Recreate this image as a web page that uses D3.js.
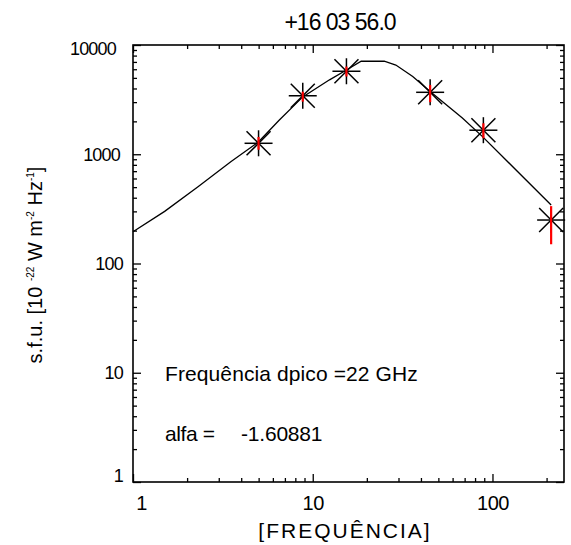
<!DOCTYPE html>
<html><head><meta charset="utf-8">
<script src="https://cdn.jsdelivr.net/npm/d3@7/dist/d3.min.js"></script>
<style>
body{margin:0;background:#fff}
text{font-family:"Liberation Sans",Arial,sans-serif;fill:#000}
</style>
</head><body>
<svg id="c" width="571" height="545"></svg>
<script>
const chartTitle = "+16 03 56.0";
const xLabel = "[FREQUÊNCIA]";
const freqObs = [4.995, 8.8, 15.4, 45, 89, 212];
const fluxObs = [1260, 3430, 5750, 3690, 1660, 250];
const errLow  = [1100, 3030, 5150, 3000, 1400, 150];
const errHigh = [1440, 3740, 6350, 4300, 1920, 335];
const fitFreq = [1, 1.5, 2.3, 3.5, 5, 6.5, 8.8, 12.4, 15.4, 18.6, 25, 29, 36, 45, 68, 88, 212];
const fitFlux = [195, 300, 505, 855, 1300, 2050, 3350, 4800, 5900, 7100, 7100, 6550, 5150, 3750, 2150, 1450, 343];
const xTickValues = [1, 10, 100];
const xTickLabels = ["1", "10", "100"];
const yTickValues = [1, 10, 100, 1000, 10000];
const yTickLabels = ["1", "10", "100", "1000", "10000"];
const annot1 = "Frequência dpico =22 GHz";
const annot2a = "alfa =";
const annot2b = "-1.60881";

const svg = d3.select("#c");
const L = 133, R = 564, T = 45, B = 482;
const x = d3.scaleLog().domain([1, 250]).range([L, R]);
const y = d3.scaleLog().domain([1, 10000]).range([B, T]);

const xMinor = x.ticks().filter(v => !xTickValues.includes(v));
const yMinor = y.ticks().filter(v => !yTickValues.includes(v));

function styleAxis(g){
  g.select(".domain").remove();
  g.selectAll(".tick line").attr("stroke", "#000").attr("stroke-width", 1.3);
}

// bottom
svg.append("g").attr("transform", `translate(0,${B})`)
  .call(d3.axisBottom(x).tickValues(xTickValues).tickSize(-8).tickPadding(14)
    .tickFormat((d,i) => xTickLabels[i]))
  .call(styleAxis)
  .call(g => g.selectAll("text").attr("font-size", 20).attr("fill", "#000")
     .attr("font-family", '"Liberation Sans",Arial,sans-serif').attr("letter-spacing", -0.5))
  .call(g => g.selectAll(".tick text").filter((d,i) => i === 0).attr("dx", 8));
svg.append("g").attr("transform", `translate(0,${B})`)
  .call(d3.axisBottom(x).tickValues(xMinor).tickSize(-4).tickFormat(""))
  .call(styleAxis);
// top
svg.append("g").attr("transform", `translate(0,${T})`)
  .call(d3.axisTop(x).tickValues(xTickValues).tickSize(-8).tickFormat(""))
  .call(styleAxis);
svg.append("g").attr("transform", `translate(0,${T})`)
  .call(d3.axisTop(x).tickValues(xMinor).tickSize(-4).tickFormat(""))
  .call(styleAxis);
// left
svg.append("g").attr("transform", `translate(${L},0)`)
  .call(d3.axisLeft(y).tickValues(yTickValues).tickSize(-8).tickPadding(10)
    .tickFormat((d,i) => yTickLabels[i]))
  .call(styleAxis)
  .call(g => g.selectAll("text").attr("font-size", 18).attr("fill", "#000")
     .attr("font-family", '"Liberation Sans",Arial,sans-serif').attr("letter-spacing", -0.8))
  .call(g => g.selectAll(".tick text").filter((d,i) => i === 0).attr("dy", "-0.05em"))
  .call(g => g.selectAll(".tick text").filter((d,i) => i >= 3).attr("dx", (d,i) => i === 0 ? -3 : -7))
  .call(g => g.selectAll(".tick text").filter((d,i) => i === yTickValues.length - 1).attr("dy", "0.55em"));
svg.append("g").attr("transform", `translate(${L},0)`)
  .call(d3.axisLeft(y).tickValues(yMinor).tickSize(-4).tickFormat(""))
  .call(styleAxis);
// right
svg.append("g").attr("transform", `translate(${R},0)`)
  .call(d3.axisRight(y).tickValues(yTickValues).tickSize(-8).tickFormat(""))
  .call(styleAxis);
svg.append("g").attr("transform", `translate(${R},0)`)
  .call(d3.axisRight(y).tickValues(yMinor).tickSize(-4).tickFormat(""))
  .call(styleAxis);

// frame
svg.append("rect").attr("x", L).attr("y", T).attr("width", R - L).attr("height", B - T)
  .attr("fill", "none").attr("stroke", "#000").attr("stroke-width", 1.6);

// fit curve
const fit = fitFreq.map((f, i) => [f, fitFlux[i]]);
svg.append("path").datum(fit)
  .attr("d", d3.line().x(d => x(d[0])).y(d => y(d[1])))
  .attr("fill", "none").attr("stroke", "#000").attr("stroke-width", 1.3);

// stars
const obs = freqObs.map((f, i) => ({f, v: fluxObs[i], lo: errLow[i], hi: errHigh[i]}));
const star = svg.append("g").selectAll("g").data(obs).join("g")
  .attr("transform", d => `translate(${x(d.f)},${y(d.v)})`);
const arms = [[-14,0,14,0],[0,-13,0,13],[-12,-12,12,12],[-12,12,12,-12]];
arms.forEach(a => {
  star.append("line").attr("x1", a[0]).attr("y1", a[1]).attr("x2", a[2]).attr("y2", a[3])
    .attr("stroke", "#000").attr("stroke-width", 1.5);
});
// error bars
svg.append("g").selectAll("line").data(obs).join("line")
  .attr("x1", d => x(d.f)).attr("x2", d => x(d.f))
  .attr("y1", d => y(d.lo)).attr("y2", d => y(d.hi))
  .attr("stroke", "#ff0000").attr("stroke-width", 2.2);

// title
svg.append("text").attr("x", 340).attr("y", 30).attr("text-anchor", "middle")
  .attr("font-size", 23).attr("letter-spacing", -1).text(chartTitle);
// x label
svg.append("text").attr("x", 345).attr("y", 538).attr("text-anchor", "middle")
  .attr("font-size", 21).attr("letter-spacing", 2).text(xLabel);
// y label
const yl = svg.append("text").attr("transform", "translate(42,265) rotate(-90)")
  .attr("text-anchor", "middle").attr("font-size", 20);
yl.append("tspan").text("s.f.u. [10 ");
yl.append("tspan").attr("font-size", 10).attr("dy", -8).text("-22");
yl.append("tspan").attr("dy", 8).text(" W m");
yl.append("tspan").attr("font-size", 10).attr("dy", -8).text("-2");
yl.append("tspan").attr("dy", 8).text(" Hz");
yl.append("tspan").attr("font-size", 10).attr("dy", -8).text("-1");
yl.append("tspan").attr("dy", 8).text("]");

// annotations
svg.append("text").attr("x", 165).attr("y", 381).attr("font-size", 21).attr("letter-spacing", 0.1).text(annot1);
svg.append("text").attr("x", 165).attr("y", 441).attr("font-size", 21).attr("letter-spacing", -0.4).text(annot2a);
svg.append("text").attr("x", 241).attr("y", 441).attr("font-size", 21).attr("letter-spacing", -0.2).text(annot2b);
</script>
</body></html>
